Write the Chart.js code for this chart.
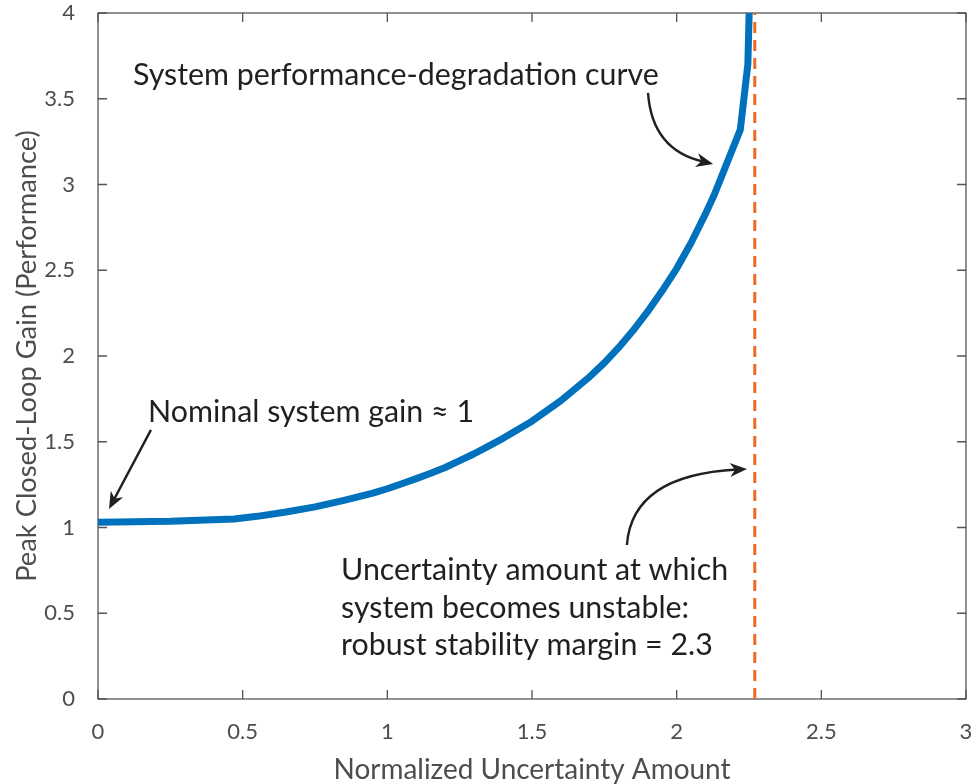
<!DOCTYPE html>
<html lang="en">
<head>
<meta charset="UTF-8">
<title>Robust Stability Margin</title>
<script src="https://cdn.jsdelivr.net/npm/chart.js"></script>
<style>
    html, body { margin: 0; padding: 0; background: #fff; }
    #wrap { width: 973px; height: 784px; }
</style>
</head>
<body>
<div id="wrap"><canvas id="marginChart" width="973" height="784"></canvas></div>
<script>
    // curve
    const uncertainty = [0, 0.25, 0.47, 0.55, 0.65, 0.75, 0.85, 0.95,
        1.0, 1.05, 1.1, 1.15, 1.2, 1.25, 1.3, 1.35, 1.4, 1.45, 1.5, 1.55, 1.6, 1.65,
        1.7, 1.75, 1.8, 1.85, 1.9, 1.95, 2.0, 2.05, 2.1, 2.13, 2.22, 2.246, 2.255];
    const peakGain = [1.03, 1.036, 1.05, 1.065, 1.09, 1.12, 1.158, 1.2,
        1.226, 1.255, 1.285, 1.316, 1.35, 1.39, 1.43, 1.475, 1.52, 1.57, 1.62, 1.68, 1.74, 1.81,
        1.88, 1.96, 2.05, 2.15, 2.26, 2.38, 2.51, 2.66, 2.83, 2.94, 3.32, 3.70, 4.3];
    const stabilityMargin = 2.27;

    const xTicks = [0, 0.5, 1, 1.5, 2, 2.5, 3];
    const xTickLabels = ['0', '0.5', '1', '1.5', '2', '2.5', '3'];
    const yTicks = [0, 0.5, 1, 1.5, 2, 2.5, 3, 3.5, 4];
    const yTickLabels = ['0', '0.5', '1', '1.5', '2', '2.5', '3', '3.5', '4'];

    // annotation text (data coords of left/baseline)
    const noteTexts = ['System performance-degradation curve', 'Nominal system gain \u2248 1',
        'Uncertainty amount at which', 'system becomes unstable:', 'robust stability margin = 2.3'];
    const noteX = [0.121, 0.173, 0.84, 0.84, 0.84];
    const noteY = [3.58, 1.618, 0.694, 0.472, 0.257];

    // arrows: start, optional bend, tip (data coords)
    const arrows = [
        { from: [0.183, 1.569], bend: null, to: [0.038, 1.108] },
        { from: [1.901, 3.534], bend: [1.915, 3.201], to: [2.126, 3.120] },
        { from: [1.828, 0.898], bend: [1.846, 1.306], to: [2.243, 1.341] }
    ];

    const FONT = 'Lato, "Open Sans", sans-serif';
    const measureCtx = document.createElement('canvas').getContext('2d');
    function fitSize(text, width) {
        measureCtx.font = '100px ' + FONT;
        return 100 * width / measureCtx.measureText(text).width;
    }
    const tickSize = 22;
    const xTitleSize = fitSize('Normalized Uncertainty Amount', 397);
    const yTitleSize = fitSize('Peak Closed-Loop Gain (Performance)', 452);
    const noteSize = fitSize('Uncertainty amount at which', 387);

    function noPad(s) {
        s.paddingTop = 0; s.paddingBottom = 0; s.paddingLeft = 0; s.paddingRight = 0;
    }

    const framePlugin = {
        id: 'frame',
        beforeDatasetsDraw(chart) {
            const { ctx, chartArea: a, scales } = chart;
            ctx.save();
            ctx.strokeStyle = '#555';
            ctx.lineWidth = 1.3;
            ctx.strokeRect(a.left, a.top, a.right - a.left, a.bottom - a.top);
            ctx.beginPath();
            xTicks.forEach(v => {
                const px = scales.x.getPixelForValue(v);
                ctx.moveTo(px, a.bottom); ctx.lineTo(px, a.bottom - 9);
                ctx.moveTo(px, a.top); ctx.lineTo(px, a.top + 9);
            });
            yTicks.forEach(v => {
                const py = scales.y.getPixelForValue(v);
                ctx.moveTo(a.left, py); ctx.lineTo(a.left + 9, py);
                ctx.moveTo(a.right, py); ctx.lineTo(a.right - 9, py);
            });
            ctx.stroke();
            ctx.restore();
        },
        afterDatasetsDraw(chart) {
            const { ctx, scales } = chart;
            const X = v => scales.x.getPixelForValue(v);
            const Y = v => scales.y.getPixelForValue(v);
            ctx.save();
            ctx.fillStyle = '#231f20';
            ctx.strokeStyle = '#231f20';
            ctx.font = noteSize.toFixed(2) + 'px ' + FONT;
            ctx.textBaseline = 'alphabetic';
            noteTexts.forEach((t, i) => ctx.fillText(t, X(noteX[i]), Y(noteY[i])));

            ctx.lineWidth = 2.4;
            arrows.forEach(ar => {
                const sx = X(ar.from[0]), sy = Y(ar.from[1]);
                const tx = X(ar.to[0]), ty = Y(ar.to[1]);
                const ref = ar.bend ? [X(ar.bend[0]), Y(ar.bend[1])] : [sx, sy];
                const ang = Math.atan2(ty - ref[1], tx - ref[0]);
                const ex = tx - Math.cos(ang) * 10, ey = ty - Math.sin(ang) * 10;
                ctx.beginPath();
                ctx.moveTo(sx, sy);
                if (ar.bend) ctx.quadraticCurveTo(ref[0], ref[1], ex, ey);
                else ctx.lineTo(ex, ey);
                ctx.stroke();
                // arrow head
                const L = 17, W = 7, N = 12;
                ctx.beginPath();
                ctx.moveTo(tx, ty);
                ctx.lineTo(tx - Math.cos(ang) * L - Math.sin(ang) * W, ty - Math.sin(ang) * L + Math.cos(ang) * W);
                ctx.lineTo(tx - Math.cos(ang) * N, ty - Math.sin(ang) * N);
                ctx.lineTo(tx - Math.cos(ang) * L + Math.sin(ang) * W, ty - Math.sin(ang) * L - Math.cos(ang) * W);
                ctx.closePath();
                ctx.fill();
            });
            ctx.restore();
        }
    };

    const ctx = document.getElementById('marginChart').getContext('2d');
    new Chart(ctx, {
        type: 'scatter',
        data: {
            datasets: [{
                label: 'Peak gain',
                data: uncertainty.map((u, i) => ({ x: u, y: peakGain[i] })),
                showLine: true,
                borderColor: '#0072BD',
                borderWidth: 7,
                pointRadius: 0,
                tension: 0,
                clip: 0,
                borderJoinStyle: 'round'
            }, {
                label: 'Stability margin',
                data: [{ x: stabilityMargin, y: 0 }, { x: stabilityMargin, y: 4 }],
                showLine: true,
                borderColor: '#EE6A24',
                borderWidth: 3,
                borderDash: [11, 7],
                pointRadius: 0,
                clip: 0
            }]
        },
        options: {
            responsive: false,
            devicePixelRatio: 1,
            animation: false,
            layout: { padding: { top: 13, right: 7, left: 0, bottom: 0 } },
            plugins: { legend: { display: false }, tooltip: { enabled: false } },
            scales: {
                x: {
                    type: 'linear', min: 0, max: 3,
                    grid: { display: false }, border: { display: false },
                    afterBuildTicks: s => { s.ticks = xTicks.map(v => ({ value: v })); },
                    afterFit: s => { s.height = 85; noPad(s); },
                    ticks: {
                        padding: 12, color: '#4d4d4d', maxRotation: 0,
                        font: { family: FONT, size: tickSize },
                        callback: (v) => xTickLabels[xTicks.indexOf(v)]
                    },
                    title: {
                        display: true, text: 'Normalized Uncertainty Amount', color: '#4d4d4d',
                        font: { family: FONT, size: xTitleSize, lineHeight: 1 },
                        padding: { top: 0, bottom: 14 - xTitleSize / 2 }
                    }
                },
                y: {
                    type: 'linear', min: 0, max: 4,
                    grid: { display: false }, border: { display: false },
                    afterBuildTicks: s => { s.ticks = yTicks.map(v => ({ value: v })); },
                    afterFit: s => { s.width = 98; noPad(s); },
                    ticks: {
                        padding: 15, color: '#4d4d4d',
                        font: { family: FONT, size: tickSize },
                        callback: (v) => yTickLabels[yTicks.indexOf(v)]
                    },
                    title: {
                        display: true, text: 'Peak Closed-Loop Gain (Performance)', color: '#4d4d4d',
                        font: { family: FONT, size: yTitleSize, lineHeight: 1 },
                        padding: { top: 27 - yTitleSize / 2, bottom: 0 }
                    }
                }
            }
        },
        plugins: [framePlugin]
    });
</script>
</body>
</html>
